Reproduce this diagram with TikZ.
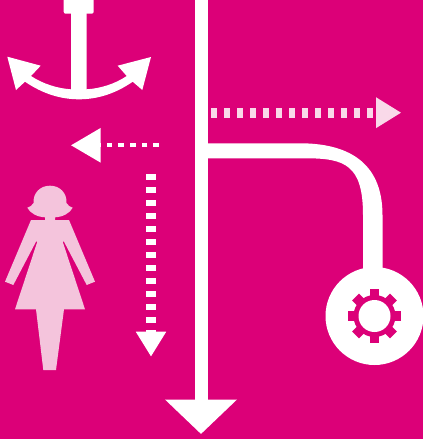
\documentclass[tikz,border=0pt]{standalone}
\usepackage{tikz}
\usetikzlibrary{arrows.meta, calc}
\usepackage{xcolor}
\definecolor{bgmagenta}{HTML}{DC0078}
\definecolor{figpink}{HTML}{F4C4DC}
\definecolor{dotpink}{HTML}{F9D9E9}

\begin{document}
\begin{tikzpicture}[
  x=1pt, y=-1pt,
  mainarr/.style={white, line width=13pt, -{Triangle[length=34.5pt, width=70pt]}},
  rightarr/.style={dotpink, line width=10pt, dash pattern=on 6pt off 7pt,
    -{Triangle[length=25.3pt, width=29pt]}},
  leftarr/.style={white, line width=4pt, dash pattern=on 5.7pt off 6pt,
    -{Triangle[length=29.7pt, width=33.7pt]}},
  downarr/.style={white, line width=10pt, dash pattern=on 6pt off 7pt,
    -{Triangle[length=25pt, width=28.6pt]}},
  hub/.style={circle, fill=white, minimum size=98pt, inner sep=0pt},
  tooth/.style={fill=bgmagenta, minimum width=53.4pt, minimum height=9.6pt, inner sep=0pt}
]
  \useasboundingbox (0,0) rectangle (423,439);
  \fill[bgmagenta] (0,0) rectangle (423,439);

  % Anchor
  \fill[white, rounded corners=2pt] (63.7,-4) rectangle (93.7,13.7);
  \fill[white] (71,10) -- (86.7,10) -- (86.7,89.3)
    .. controls (100,88.5) and (115,84) .. (126.7,76)
    -- (117.7,65.7) -- (151,57) -- (142.3,90) -- (132.7,81.7)
    .. controls (115,94) and (97,99.3) .. (79,99.3)
    .. controls (61,99.3) and (43,94) .. (25,81.7)
    -- (16,90) -- (7.3,56.7) -- (40.7,65.7) -- (31,76)
    .. controls (43,84) and (58,88.5) .. (71,89.3) -- cycle;

  % Figure
  \fill[figpink] (50,185.7)
    .. controls (60,185.7) and (67,193) .. (66.5,203)
    .. controls (68,205.5) and (70,207) .. (72.7,207.7)
    .. controls (70,213) and (63,217) .. (55,217.3)
    -- (55,220) -- (69,220) -- (95,281.7) -- (86.7,285)
    -- (64,241.7) -- (62.7,241.7) -- (85,309.3) -- (64,309.3)
    -- (56,370) -- (43.3,370) -- (36,309.3) -- (15,309.3)
    -- (37.3,241.7) -- (36,241.7) -- (13.3,285) -- (5,281.7)
    -- (31,220) -- (45,220) -- (45,217.3)
    .. controls (37,217) and (30,213) .. (27.3,207.7)
    .. controls (30,207) and (32,205.5) .. (33.5,203)
    .. controls (33,193) and (40,185.7) .. (50,185.7) -- cycle;

  % Dotted arrows
  \coordinate (rightstart) at (211.3,112.7);
  \coordinate (rightend) at (401.3,112.7);
  \coordinate (leftstart) at (159,145.3);
  \coordinate (leftend) at (71,145.3);
  \coordinate (downstart) at (151,174);
  \coordinate (downend) at (151,356.7);
  \draw[rightarr] (rightstart) -- (rightend);
  \draw[leftarr] (leftstart) -- (leftend);
  \draw[downarr] (downstart) -- (downend);

  % Gear
  \node[hub] (gearhub) at (374.5,316) {};
  \foreach \ang in {0,45,90,135} {
    \node[tooth, rotate=\ang] (tooth\ang) at (gearhub.center) {};
  }
  \node[circle, fill=bgmagenta, minimum size=42pt, inner sep=0pt] (gearring) at (gearhub.center) {};
  \node[circle, fill=white, minimum size=32pt, inner sep=0pt] (gearhole) at (gearhub.center) {};

  % Main line and branch
  \coordinate (maintop) at (201,0);
  \coordinate (mainend) at (201,434);
  \coordinate (branchtop) at (203,143.3);
  \coordinate (branchlow) at (203,158.3);
  \fill[white] (branchtop) -- (300,143.3)
    .. controls (345,143.3) and (382.5,160) .. (382.5,215)
    -- ($(gearhub.center)+(8,-40)$) -- ($(gearhub.center)+(-11.5,-40)$) -- (363,215)
    .. controls (363,165) and (345,158.3) .. (306,158.3)
    -- (branchlow) -- cycle;
  \draw[mainarr] (maintop) -- (mainend);
\end{tikzpicture}
\end{document}
